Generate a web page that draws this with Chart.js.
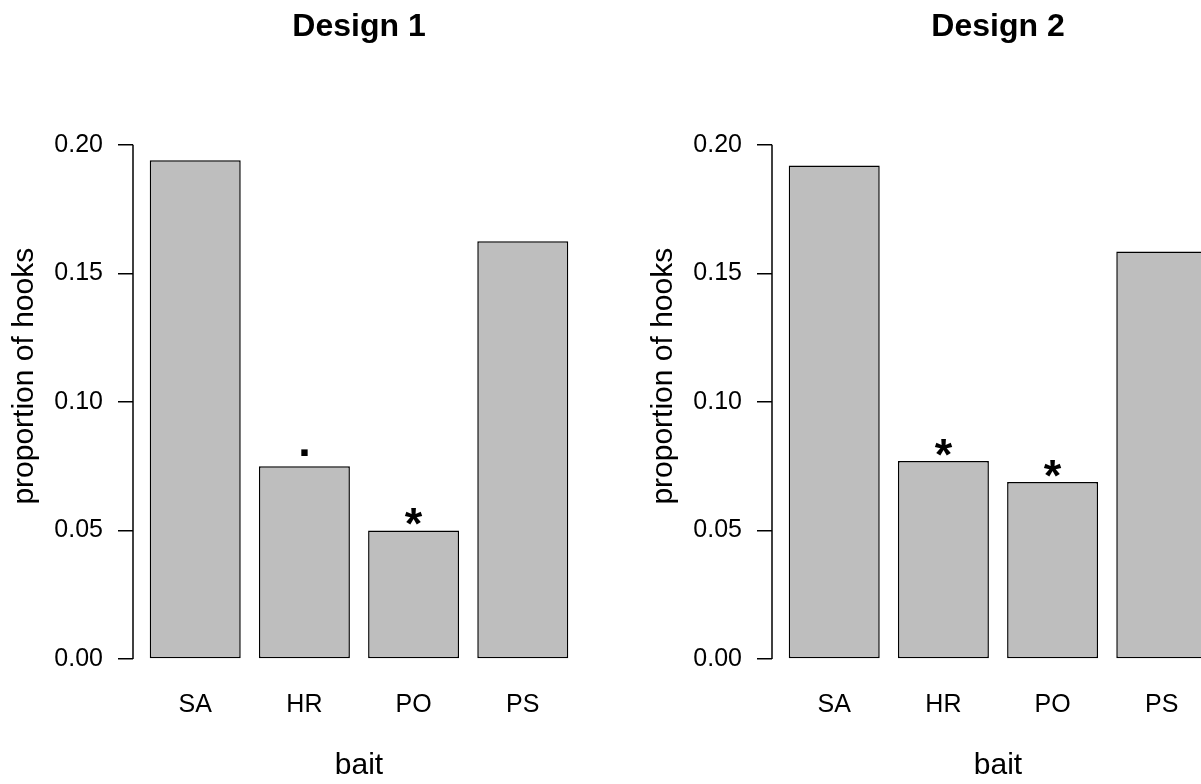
<!DOCTYPE html>
<html>
<head>
<meta charset="utf-8">
<script src="https://cdn.jsdelivr.net/npm/chart.js@4.4.1/dist/chart.umd.min.js"></script>
<style>
    html, body { margin: 0; padding: 0; background: #fff; overflow: hidden; width: 1201px; height: 784px; }
    canvas { position: absolute; top: 0; }
    #design1 { left: 0; }
    #design2 { left: 639px; }
</style>
</head>
<body>
<canvas id="design1" width="600" height="784"></canvas>
<canvas id="design2" width="600" height="784"></canvas>
<script>
const baits = ["SA", "HR", "PO", "PS"];
const design1 = [0.194, 0.075, 0.050, 0.1625];
const design2 = [0.192, 0.077, 0.0688, 0.1585];
// significance marks above the bars
const marks1 = ["", ".", "*", ""];
const marks2 = ["", "*", "*", ""];
const yTicks = [0, 0.05, 0.10, 0.15, 0.20];

const FONT = '"Liberation Sans", Arial, Helvetica, sans-serif';

// R barplot positions: width 1, space 0.2
const barPos = baits.map((b, i) => 0.2 + 1.2 * i + 0.5);

// R style axis line, only from first to last tick
const rAxisLine = {
    id: "rAxisLine",
    afterDraw(chart) {
        const y = chart.scales.y;
        const ctx = chart.ctx;
        const x = chart.chartArea.left;
        ctx.save();
        ctx.strokeStyle = "#000";
        ctx.lineWidth = 1.5;
        ctx.beginPath();
        ctx.moveTo(x, y.getPixelForValue(yTicks[0]));
        ctx.lineTo(x, y.getPixelForValue(yTicks[yTicks.length - 1]));
        ctx.stroke();
        ctx.restore();
    },
};

const sigMarks = {
    id: "sigMarks",
    afterDatasetsDraw(chart, args, opts) {
        const ctx = chart.ctx;
        const bars = chart.getDatasetMeta(0).data;
        ctx.save();
        ctx.font = "bold 45px " + FONT;
        ctx.fillStyle = "#000";
        ctx.textAlign = "center";
        ctx.textBaseline = "alphabetic";
        opts.marks.forEach((m, i) => {
            if (!m) return;
            const bar = bars[i];
            const mt = ctx.measureText(m);
            const mid = bar.y - 14;
            ctx.fillText(m, bar.x, mid + (mt.actualBoundingBoxAscent - mt.actualBoundingBoxDescent) / 2);
        });
        ctx.restore();
    },
};

function makeChart(id, title, values, marks) {
    const ctx = document.getElementById(id).getContext("2d");
    return new Chart(ctx, {
        type: "bar",
        data: {
            datasets: [
                {
                    data: values.map((v, i) => ({ x: barPos[i], y: v })),
                    backgroundColor: "#bebebe",
                    borderColor: "#000",
                    borderWidth: 1.5,
                    borderSkipped: false,
                    categoryPercentage: 1,
                    barPercentage: 1 / 1.2,
                },
            ],
        },
        plugins: [rAxisLine, sigMarks],
        options: {
            responsive: false,
            animation: false,
            layout: { padding: { left: 0, right: 15, top: 0, bottom: 0 } },
            plugins: {
                legend: { display: false },
                tooltip: { enabled: false },
                sigMarks: { marks: marks },
                title: {
                    display: true,
                    text: title,
                    fullSize: false,
                    color: "#000",
                    font: { family: FONT, size: 32, weight: "bold" },
                    padding: { top: 8, bottom: 47 },
                },
            },
            scales: {
                x: {
                    type: "linear",
                    min: 0.016,
                    max: 4.984,
                    offset: false,
                    grid: { display: false, drawTicks: false, offset: false },
                    border: { display: false },
                    afterBuildTicks: (scale) => {
                        scale.ticks = barPos.map((v) => ({ value: v }));
                    },
                    afterFit: (scale) => {
                        scale.height = 125;
                    },
                    ticks: {
                        autoSkip: false,
                        maxRotation: 0,
                        padding: 31,
                        color: "#000",
                        font: { family: FONT, size: 25 },
                        callback: (v, i) => baits[i],
                    },
                    title: {
                        display: true,
                        text: "bait",
                        color: "#000",
                        font: { family: FONT, size: 30 },
                        padding: { top: 0, bottom: 0 },
                    },
                },
                y: {
                    min: 0,
                    max: 0.22,
                    grid: {
                        drawOnChartArea: false,
                        drawTicks: true,
                        tickLength: 15,
                        color: "#000",
                        lineWidth: 1.5,
                    },
                    border: { display: false },
                    afterBuildTicks: (scale) => {
                        scale.ticks = yTicks.map((v) => ({ value: v }));
                    },
                    afterFit: (scale) => {
                        scale.width = 133;
                    },
                    ticks: {
                        padding: 15,
                        color: "#000",
                        font: { family: FONT, size: 25 },
                        callback: (v) => v.toFixed(2),
                    },
                    title: {
                        display: true,
                        text: "proportion of hooks",
                        color: "#000",
                        font: { family: FONT, size: 30 },
                        padding: { top: 7, bottom: 0 },
                    },
                },
            },
        },
    });
}

makeChart("design1", "Design 1", design1, marks1);
makeChart("design2", "Design 2", design2, marks2);
</script>
</body>
</html>
